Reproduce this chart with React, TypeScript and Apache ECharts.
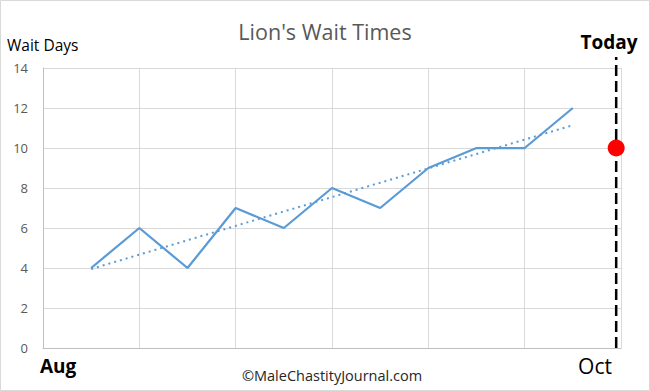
import React, { useEffect, useRef } from "react";
import * as echarts from "echarts";

const pointX = [1, 2, 3, 4, 5, 6, 7, 8, 9, 10, 11];
const waitDays = [4, 6, 4, 7, 6, 8, 7, 9, 10, 10, 12];
const trendX = [1, 11];
const trendY = [3.95, 11.14];
const todayX = 11.9;
const todayWait = 10;
const todayLineY = [0, 14.55];
const yTicks = [0, 2, 4, 6, 8, 10, 12, 14];
const monthLabels = ["Aug", "Oct"];

export default function App() {
  const ref = useRef<HTMLDivElement>(null);
  useEffect(() => {
    document.body.style.margin = "0";
    const chart = echarts.init(ref.current!, null, { renderer: "svg" });
    const font = "'Open Sans', 'Noto Sans', sans-serif";
    chart.setOption({
      animation: false,
      backgroundColor: "#ffffff",
      grid: { left: 43, top: 68, right: 29, bottom: 43 },
      xAxis: {
        type: "value",
        min: 0,
        max: 12,
        interval: 2,
        axisLine: { show: true, lineStyle: { color: "#bfbfbf", width: 1 } },
        axisTick: { show: false },
        axisLabel: { show: false },
        splitLine: { show: true, lineStyle: { color: "#d9d9d9", width: 1 } },
      },
      yAxis: {
        type: "value",
        min: yTicks[0],
        max: yTicks[yTicks.length - 1],
        interval: 2,
        axisLine: { show: true, lineStyle: { color: "#bfbfbf", width: 1 } },
        axisTick: { show: false },
        axisLabel: { color: "#595959", fontSize: 13, fontFamily: font, margin: 15 },
        splitLine: { show: true, lineStyle: { color: "#d9d9d9", width: 1 } },
      },
      series: [
        {
          type: "line",
          data: pointX.map((x, i) => [x, waitDays[i]]),
          symbol: "none",
          lineStyle: { color: "#5b9bd5", width: 2.25 },
          z: 3,
        },
        {
          type: "line",
          data: trendX.map((x, i) => [x, trendY[i]]),
          symbol: "none",
          lineStyle: { color: "#5b9bd5", width: 2, type: [2, 4] },
          z: 2,
        },
        {
          type: "line",
          clip: false,
          data: todayLineY.map((y) => [todayX, y]),
          symbol: "none",
          lineStyle: { color: "#000000", width: 2.5, type: [11, 5] },
          z: 3,
        },
        {
          type: "scatter",
          data: [[todayX, todayWait]],
          symbol: "circle",
          symbolSize: 17,
          itemStyle: { color: "#ff0000", opacity: 1 },
          z: 10,
          zlevel: 1,
        },
      ],
      graphic: [
        {
          type: "rect",
          shape: { x: 0.5, y: 0.5, width: 649, height: 390 },
          style: { fill: "none", stroke: "#d9d9d9", lineWidth: 1 },
          silent: true,
        },
        {
          type: "text",
          x: 325,
          y: 31,
          style: {
            text: "Lion's Wait Times",
            fill: "#595959",
            font: `21.5px ${font}`,
            textAlign: "center",
            textVerticalAlign: "middle",
          },
        },
        {
          type: "text",
          x: 7,
          y: 45,
          style: {
            text: "Wait Days",
            fill: "#000000",
            font: `15.5px ${font}`,
            textAlign: "left",
            textVerticalAlign: "middle",
          },
        },
        {
          type: "text",
          x: 609,
          y: 42,
          style: {
            text: "Today",
            fill: "#000000",
            font: `bold 19px ${font}`,
            textAlign: "center",
            textVerticalAlign: "middle",
          },
        },
        {
          type: "text",
          x: 40,
          y: 366,
          style: {
            text: monthLabels[0],
            fill: "#000000",
            font: `bold 19px ${font}`,
            textAlign: "left",
            textVerticalAlign: "middle",
          },
        },
        {
          type: "text",
          x: 612,
          y: 366,
          style: {
            text: monthLabels[1],
            fill: "#000000",
            font: `21px ${font}`,
            textAlign: "right",
            textVerticalAlign: "middle",
          },
        },
        {
          type: "text",
          x: 332,
          y: 375,
          style: {
            text: "©MaleChastityJournal.com",
            fill: "#262626",
            font: `14.5px ${font}`,
            textAlign: "center",
            textVerticalAlign: "middle",
          },
        },
      ],
    });
    return () => chart.dispose();
  }, []);
  return <div ref={ref} style={{ width: 650, height: 391 }} />;
}
